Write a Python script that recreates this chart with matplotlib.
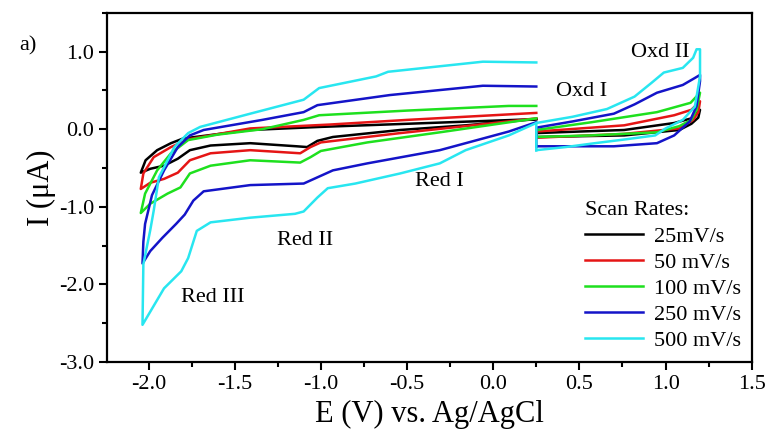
import numpy as np
import matplotlib
matplotlib.use('Agg')
import matplotlib.pyplot as plt
from matplotlib.ticker import MultipleLocator, FormatStrFormatter

plt.rcParams['font.family'] = ['Liberation Serif', 'DejaVu Serif']
plt.rcParams['axes.unicode_minus'] = False

labels = ['25mV/s', '50 mV/s', '100 mV/s', '250 mV/s', '500 mV/s']
colors = ['#000000', '#e51515', '#1ee01e', '#1414c8', '#28e6f0']

# left window: reverse (0.25 -> -2.05) then forward (-2.05 -> 0.25)
e_left_25 = [0.25, -0.16, -0.54, -0.93, -1.02, -1.08, -1.14, -1.41, -1.64, -1.76, -1.83, -1.91, -1.99, -2.045,
             -2.017, -1.95, -1.87, -1.80, -1.41, -1.0, -0.50, 0.0, 0.25]
i_left_25 = [0.13, 0.05, -0.01, -0.10, -0.15, -0.23, -0.22, -0.18, -0.21, -0.27, -0.38, -0.47, -0.51, -0.56,
             -0.40, -0.27, -0.18, -0.12, -0.01, 0.03, 0.07, 0.11, 0.13]

e_left_50 = [0.25, -0.16, -0.54, -1.0, -1.06, -1.12, -1.41, -1.64, -1.76, -1.83, -1.91, -1.99, -2.045,
             -2.03, -1.97, -1.87, -1.77, -1.41, -0.95, -0.50, 0.0, 0.25]
i_left_50 = [0.14, 0.04, -0.05, -0.17, -0.23, -0.31, -0.27, -0.31, -0.40, -0.56, -0.64, -0.69, -0.77,
             -0.57, -0.36, -0.23, -0.13, 0.01, 0.06, 0.12, 0.18, 0.21]

e_left_100 = [0.25, -0.31, -0.73, -1.0, -1.06, -1.12, -1.41, -1.64, -1.76, -1.815, -1.89, -1.99, -2.045,
              -2.02, -1.95, -1.87, -1.77, -1.60, -1.34, -1.10, -1.01, -0.50, 0.09, 0.25]
i_left_100 = [0.14, -0.04, -0.17, -0.28, -0.36, -0.43, -0.40, -0.47, -0.57, -0.75, -0.83, -0.96, -1.08,
              -0.83, -0.53, -0.31, -0.14, -0.07, 0.0, 0.12, 0.18, 0.24, 0.30, 0.30]

e_left_250 = [0.25, 0.09, -0.31, -0.73, -0.93, -1.02, -1.10, -1.41, -1.68, -1.74, -1.79, -1.84, -1.92, -1.99, -2.035,
              -2.03, -2.02, -1.98, -1.91, -1.83, -1.76, -1.68, -1.34, -1.10, -1.02, -0.60, -0.06, 0.25]
i_left_250 = [0.09, -0.03, -0.27, -0.44, -0.53, -0.62, -0.70, -0.72, -0.80, -0.92, -1.10, -1.22, -1.40, -1.57, -1.73,
              -1.45, -1.22, -0.85, -0.53, -0.23, -0.08, -0.01, 0.12, 0.22, 0.31, 0.44, 0.56, 0.55]

e_left_500 = [0.25, 0.09, -0.16, -0.31, -0.54, -0.80, -0.96, -1.02, -1.10, -1.15, -1.41, -1.64, -1.72, -1.77, -1.81, -1.91, -2.035,
              -2.03, -1.99, -1.97, -1.94, -1.85, -1.77, -1.70, -1.41, -1.10, -1.01, -0.68, -0.61, -0.06, 0.25]
i_left_500 = [0.08, -0.08, -0.27, -0.44, -0.57, -0.70, -0.76, -0.88, -1.06, -1.09, -1.14, -1.20, -1.31, -1.66, -1.83, -2.05, -2.52,
              -1.74, -1.30, -1.05, -0.62, -0.23, -0.05, 0.03, 0.20, 0.38, 0.53, 0.68, 0.74, 0.87, 0.86]

# right window: forward (0.25 -> 1.2) then reverse (1.2 -> 0.25)
e_right_25 = [0.25, 0.25, 0.50, 0.76, 1.05, 1.15, 1.20, 1.19, 1.15, 1.08, 0.76, 0.25]
i_right_25 = [-0.10, -0.05, -0.03, -0.01, 0.08, 0.14, 0.25, 0.15, 0.07, -0.01, -0.08, -0.10]

e_right_50 = [0.25, 0.25, 0.76, 1.05, 1.15, 1.20, 1.19, 1.16, 1.08, 0.76, 0.25]
i_right_50 = [-0.11, -0.03, 0.05, 0.18, 0.25, 0.36, 0.22, 0.12, 0.01, -0.06, -0.11]

e_right_100 = [0.25, 0.25, 0.57, 0.95, 1.145, 1.20, 1.18, 1.15, 1.08, 0.95, 0.57, 0.25]
i_right_100 = [-0.10, -0.01, 0.09, 0.22, 0.34, 0.47, 0.25, 0.12, 0.04, -0.04, -0.08, -0.10]

e_right_250 = [0.25, 0.25, 0.46, 0.70, 0.82, 0.95, 1.10, 1.17, 1.20, 1.20, 1.18, 1.14, 1.05, 0.95, 0.70, 0.25]
i_right_250 = [-0.22, 0.02, 0.10, 0.20, 0.32, 0.47, 0.57, 0.66, 0.70, 0.62, 0.30, 0.10, -0.08, -0.18, -0.22, -0.22]

e_right_500 = [0.25, 0.25, 0.46, 0.66, 0.82, 0.92, 0.99, 1.10, 1.16, 1.18, 1.20, 1.20, 1.17, 1.10, 1.00, 0.94, 0.77, 0.59, 0.42, 0.25]
i_right_500 = [-0.27, 0.08, 0.16, 0.26, 0.42, 0.60, 0.73, 0.79, 0.92, 1.03, 1.03, 0.68, 0.29, 0.12, 0.01, -0.08, -0.13, -0.18, -0.23, -0.27]

lefts = [(e_left_25, i_left_25), (e_left_50, i_left_50), (e_left_100, i_left_100),
         (e_left_250, i_left_250), (e_left_500, i_left_500)]
rights = [(e_right_25, i_right_25), (e_right_50, i_right_50), (e_right_100, i_right_100),
          (e_right_250, i_right_250), (e_right_500, i_right_500)]

fig = plt.figure(figsize=(7.71, 4.41), dpi=100)
ax = fig.add_axes([0.139, 0.179, 0.836, 0.792])

for (el, il), (er, ir), c, lab in zip(lefts, rights, colors, labels):
    ax.plot(el, il, color=c, lw=1.8, label=lab, solid_joinstyle='round')
    ax.plot(er, ir, color=c, lw=1.8, solid_joinstyle='round')

ax.set_xlim(-2.24, 1.5)
ax.set_ylim(-3.0, 1.5)
ax.xaxis.set_major_locator(MultipleLocator(0.5))
ax.xaxis.set_minor_locator(MultipleLocator(0.25))
ax.yaxis.set_major_locator(MultipleLocator(1.0))
ax.yaxis.set_minor_locator(MultipleLocator(0.5))
ax.xaxis.set_major_formatter(FormatStrFormatter('%.1f'))
ax.yaxis.set_major_formatter(FormatStrFormatter('%.1f'))
ax.tick_params(which='both', direction='out', width=1.5, labelsize=16, top=False, right=False)
ax.tick_params(which='major', length=6)
ax.tick_params(which='minor', length=3.5)
for s in ax.spines.values():
    s.set_linewidth(1.6)

ax.set_xlabel('E (V) vs. Ag/AgCl', fontsize=22, labelpad=4)
ax.set_ylabel('I (\u03bcA)', fontsize=22, labelpad=2)

ax.text(-0.31, -0.68, 'Red I', fontsize=16, ha='center', va='center')
ax.text(-1.09, -1.44, 'Red II', fontsize=16, ha='center', va='center')
ax.text(-1.63, -2.17, 'Red III', fontsize=16, ha='center', va='center')
ax.text(0.51, 0.48, 'Oxd I', fontsize=16, ha='center', va='center')
ax.text(0.97, 0.99, 'Oxd II', fontsize=16, ha='center', va='center')
fig.text(0.036, 0.895, 'a)', fontsize=16, ha='center', va='center')

leg = ax.legend(loc='lower right', frameon=False, fontsize=16, title='Scan Rates:',
                title_fontsize=16, alignment='left', handlelength=2.6, handletextpad=0.5,
                labelspacing=0.25, borderaxespad=0.1)

fig.savefig('out.png', dpi=100)
